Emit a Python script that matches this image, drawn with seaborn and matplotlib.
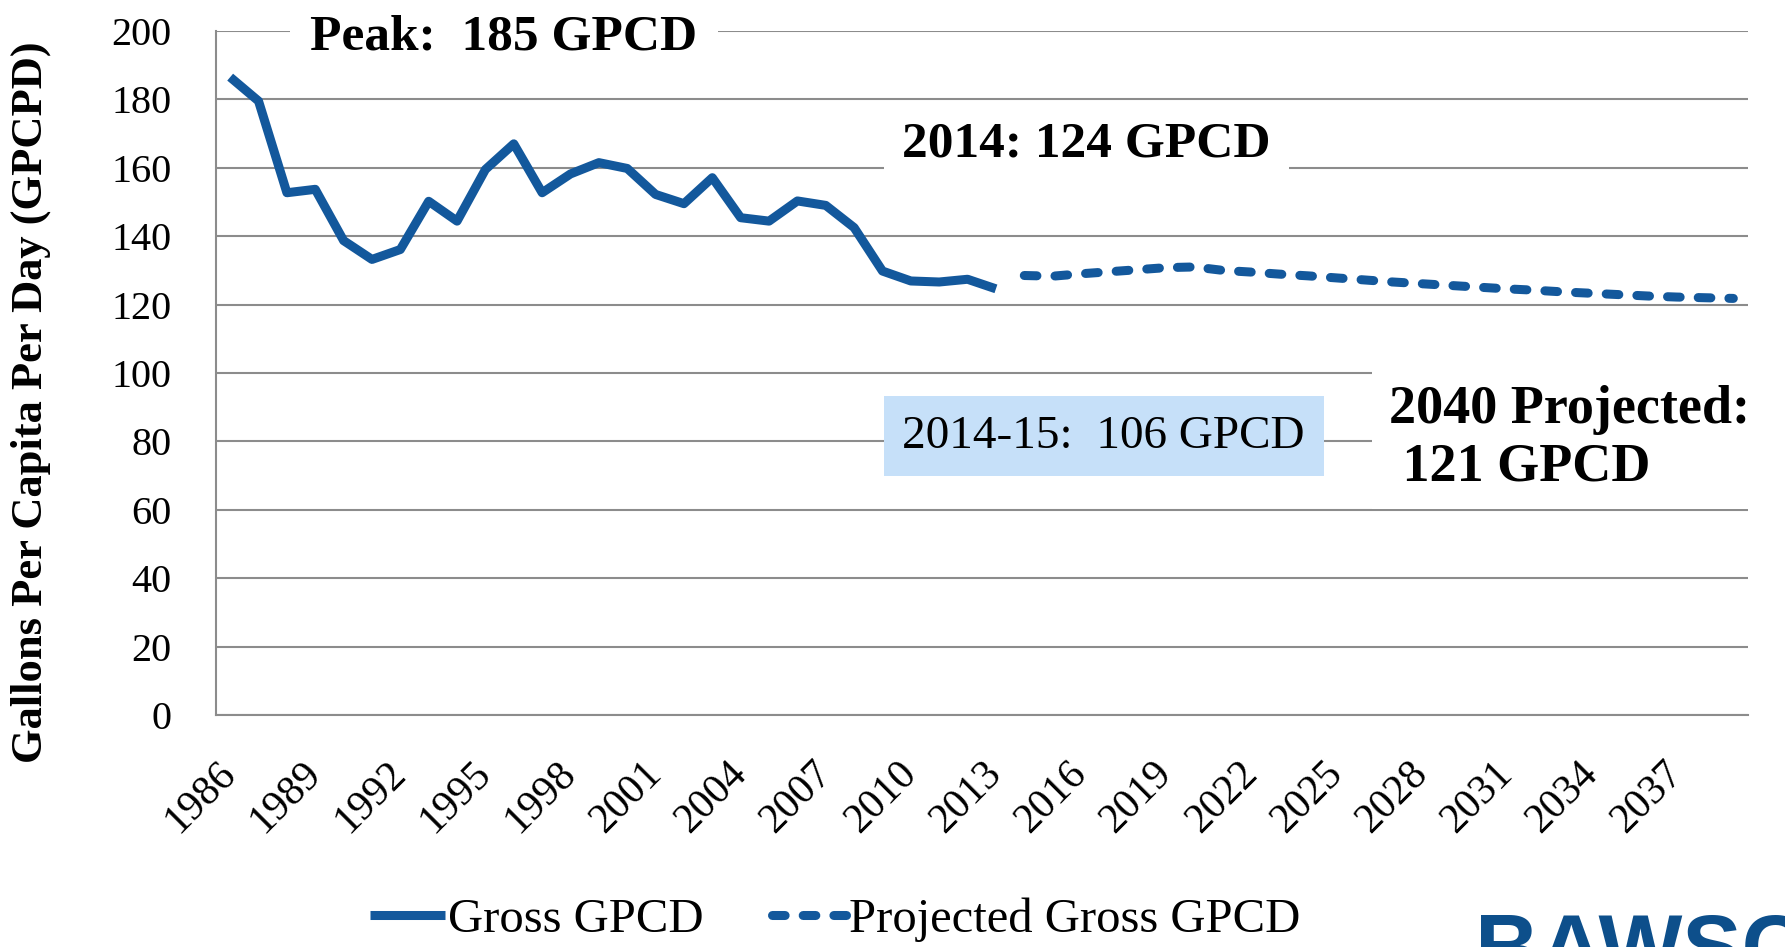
import matplotlib
matplotlib.use('Agg')
import matplotlib.pyplot as plt
import numpy as np
import pandas as pd
import seaborn as sns

# Data
hist_years = list(range(1986, 2014))
hist_gpcd = [186.5, 179.5, 152.7, 153.7, 138.7, 133.2, 136.1, 150.2, 144.4, 159.5,
             167.0, 152.7, 158.2, 161.5, 159.8, 152.2, 149.5, 157.1, 145.4, 144.4,
             150.3, 149.0, 142.5, 129.8, 126.9, 126.6, 127.4, 124.6]

proj_years = list(range(2014, 2040))
proj_gpcd = [128.5, 128.3, 129.0, 129.6, 130.2, 130.8, 131.0, 130.0, 129.5, 128.9,
             128.4, 127.8, 127.2, 126.6, 126.1, 125.6, 125.1, 124.6, 124.2, 123.7,
             123.3, 122.9, 122.5, 122.2, 122.0, 121.8]

label_years = list(range(1986, 2038, 3))
y_ticks = list(range(0, 201, 20))

df_hist = pd.DataFrame({'year': hist_years, 'gpcd': hist_gpcd})
df_proj = pd.DataFrame({'year': proj_years, 'gpcd': proj_gpcd})

BLUE = '#13589c'
GRID = '#8c8c8c'

sns.set_style('white')
plt.rcParams['font.family'] = ['Liberation Serif', 'DejaVu Serif']
plt.rcParams['text.color'] = 'black'
plt.rcParams['xtick.labelcolor'] = 'black'
plt.rcParams['ytick.labelcolor'] = 'black'
plt.rcParams['axes.labelcolor'] = 'black'

fig = plt.figure(figsize=(17.85, 9.47), dpi=100)
ax = fig.add_axes([0.121, 0.245, 0.858, 0.7223])

sns.lineplot(data=df_hist, x='year', y='gpcd', ax=ax, color=BLUE, linewidth=6.5,
             solid_capstyle='butt', label='Gross GPCD', zorder=3)
sns.lineplot(data=df_proj, x='year', y='gpcd', ax=ax, color=BLUE, linewidth=6.5,
             linestyle=(0, (1.4, 2.0)), dash_capstyle='round',
             label='Projected Gross GPCD', zorder=3)

# Axes
ax.set_xlim(1985.5, 2039.5)
ax.set_ylim(0, 200)
ax.set_yticks(y_ticks)
ax.set_xticks(label_years)
ax.set_xticks(np.arange(1985.5, 2040, 1), minor=True)
ax.set_xticklabels([str(y) for y in label_years], rotation=45, ha='right',
                   rotation_mode='anchor', va='center')
ax.tick_params(axis='x', which='major', length=0, pad=38, labelsize=30)
ax.tick_params(axis='x', which='minor', length=12, width=1.5, color=GRID, direction='out')
ax.tick_params(axis='y', length=8, width=1.5, color=GRID, direction='out', pad=24,
               labelsize=29)
ax.grid(axis='y', color=GRID, linewidth=1.5)
ax.set_axisbelow(True)
for side in ['top', 'right']:
    ax.spines[side].set_visible(False)
for side in ['left', 'bottom']:
    ax.spines[side].set_color(GRID)
    ax.spines[side].set_linewidth(1.5)

ax.set_xlabel('')
ax.set_ylabel('Gallons Per Capita Per Day (GPCPD)', fontsize=32, fontweight='bold')
ax.yaxis.set_label_coords(-0.1076, 0.458)

# Annotations
white_box = dict(boxstyle='square,pad=0.4', facecolor='white', edgecolor='none')
ax.text(1995.65, 194.7, 'Peak:  185 GPCD', ha='center', va='baseline', fontsize=37,
        fontweight='bold', bbox=white_box, zorder=4)
ax.text(2016.2, 163.4, '2014: 124 GPCD', ha='center', va='baseline', fontsize=37,
        fontweight='bold', bbox=dict(boxstyle='square,pad=0.35', facecolor='white',
                                     edgecolor='none'), zorder=4)
ax.text(2016.8, 78.2, '2014-15:  106 GPCD', ha='center', va='baseline', fontsize=34,
        bbox=dict(boxstyle='square,pad=0.4', facecolor='#c6e0f9', edgecolor='none'),
        zorder=4)
ax.text(2026.85, 96.5, '2040 Projected:\n 121 GPCD', ha='left', va='top', fontsize=39,
        fontweight='bold', linespacing=1.2, bbox=dict(boxstyle='square,pad=0.3',
                                                      facecolor='white', edgecolor='none'),
        zorder=4, clip_on=False)

# Legend
ax.get_legend().remove()
handles, labels = ax.get_legend_handles_labels()
fig.legend(handles, labels, loc='center', bbox_to_anchor=(0.468, 0.029), ncol=2,
           frameon=False, fontsize=35, handlelength=1.55, handletextpad=0.05,
           columnspacing=1.4)

# Logo (cropped by the bottom edge, as in the original slide)
fig.text(1475 / 1785, 1 - 912 / 947, 'BAWSC', family='Liberation Sans',
         fontweight='bold', fontsize=64, color='#0d4f8b', ha='left', va='top')

fig.savefig('out.png', dpi=100)
